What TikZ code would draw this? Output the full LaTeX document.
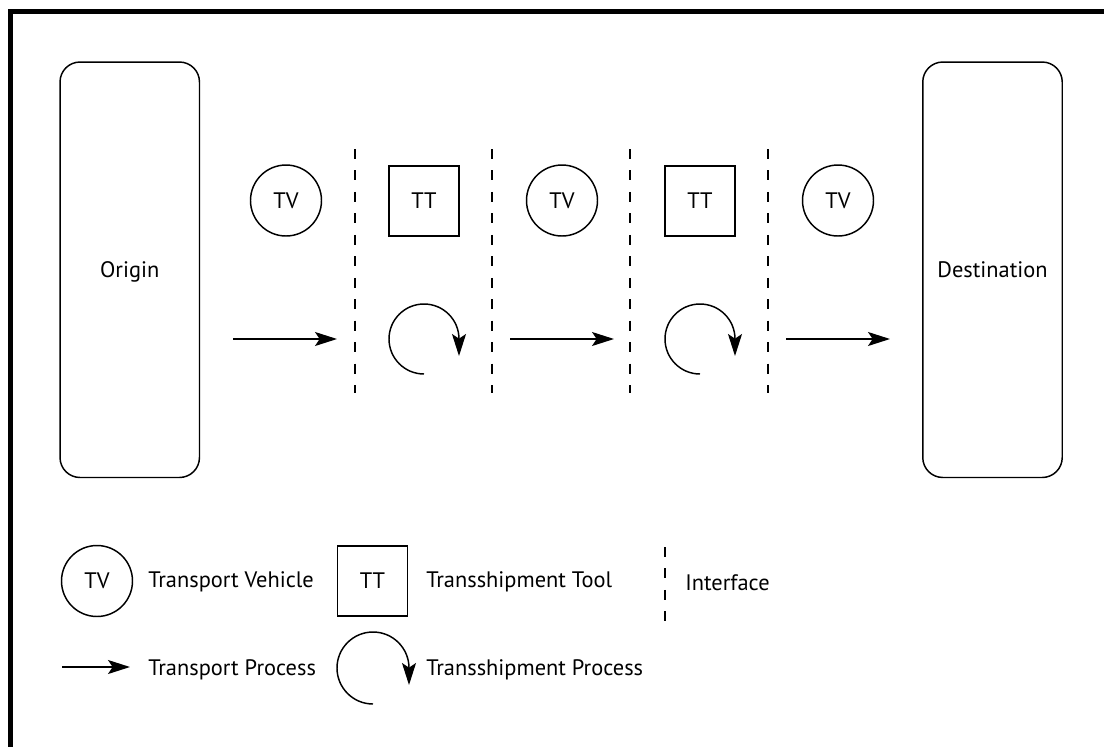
\documentclass[tikz,border=0pt]{standalone}
\usepackage{fontspec}
\setmainfont{PT Sans}
\usetikzlibrary{arrows.meta}
\begin{document}
\begin{tikzpicture}[x=0.75pt,y=-0.75pt,
  every node/.style={font=\fontsize{16.8}{20}\selectfont},
  frameline/.style={line width=3.4pt},
  endbox/.style={draw, line width=1.1pt, rounded corners=15pt, minimum width=104.6pt, minimum height=311.6pt, text depth=0pt},
  tv/.style={draw, circle, line width=1.1pt, minimum size=53.25pt, inner sep=0pt},
  tt/.style={draw, rectangle, line width=1.1pt, minimum size=52.5pt, inner sep=0pt},
  iface/.style={line width=1pt, dash pattern=on 7.5pt off 8.6pt},
  tarrow/.style={line width=1.1pt, -{Stealth[length=16.5pt,width=10.5pt,inset=3.5pt]}},
  lbl/.style={anchor=base west, inner sep=0pt}
]
\useasboundingbox (0,0) rectangle (1104,747);
\fill[white] (0,0) rectangle (1104,747);
% frame
\draw[frameline] (1104,11.3) -- (10.5,11.3) -- (10.5,747);

% end boxes
\node[endbox] (origin) at (129.75,269.75) {Origin};
\node[endbox] (dest) at (992.5,269.75) {Destination};

% vehicles and tools
\node[tv] (tv1) at (286,200.5) {TV};
\node[tt] (tt1) at (424,201) {TT};
\node[tv] (tv2) at (562,200.5) {TV};
\node[tt] (tt2) at (700,201) {TT};
\node[tv] (tv3) at (838,200.5) {TV};

% interfaces
\coordinate (i1t) at (355,149); \coordinate (i1b) at (355,393);
\coordinate (i2t) at (492,149); \coordinate (i2b) at (492,393);
\coordinate (i3t) at (630,149); \coordinate (i3b) at (630,393);
\coordinate (i4t) at (768,149); \coordinate (i4b) at (768,393);
\draw[iface] (i1t) -- (i1b);
\draw[iface] (i2t) -- (i2b);
\draw[iface] (i3t) -- (i3b);
\draw[iface] (i4t) -- (i4b);

% transport processes
\coordinate (a1s) at (233,339); \coordinate (a1e) at (337,339);
\coordinate (a2s) at (510,339); \coordinate (a2e) at (614,339);
\coordinate (a3s) at (786,339); \coordinate (a3e) at (890,339);
\draw[tarrow] (a1s) -- (a1e);
\draw[tarrow] (a2s) -- (a2e);
\draw[tarrow] (a3s) -- (a3e);

% transshipment processes
\coordinate (c1) at (424,374);
\coordinate (c2) at (700,374);
\draw[tarrow] (c1) arc[start angle=270, end angle=0, radius=26.25pt] -- ++(0,17);
\draw[tarrow] (c2) arc[start angle=270, end angle=0, radius=26.25pt] -- ++(0,17);

% legend
\node[tv] (ltv) at (97,581) {TV};
\node[lbl] (ltvt) at (148,587) {Transport Vehicle};
\node[tt] (ltt) at (372.5,581) {TT};
\node[lbl] (lttt) at (426,587) {Transshipment Tool};
\coordinate (lit) at (665,547); \coordinate (lib) at (665,621);
\draw[iface] (lit) -- (lib);
\node[lbl] (lif) at (685,590) {Interface};
\coordinate (las) at (62,667); \coordinate (lae) at (130,667);
\draw[tarrow] (las) -- (lae);
\node[lbl] (lat) at (148,675) {Transport Process};
\coordinate (lc) at (373,704);
\draw[tarrow] (lc) arc[start angle=270, end angle=0, radius=27pt] -- ++(0,17);
\node[lbl] (lct) at (426,675) {Transshipment Process};
\end{tikzpicture}
\end{document}
